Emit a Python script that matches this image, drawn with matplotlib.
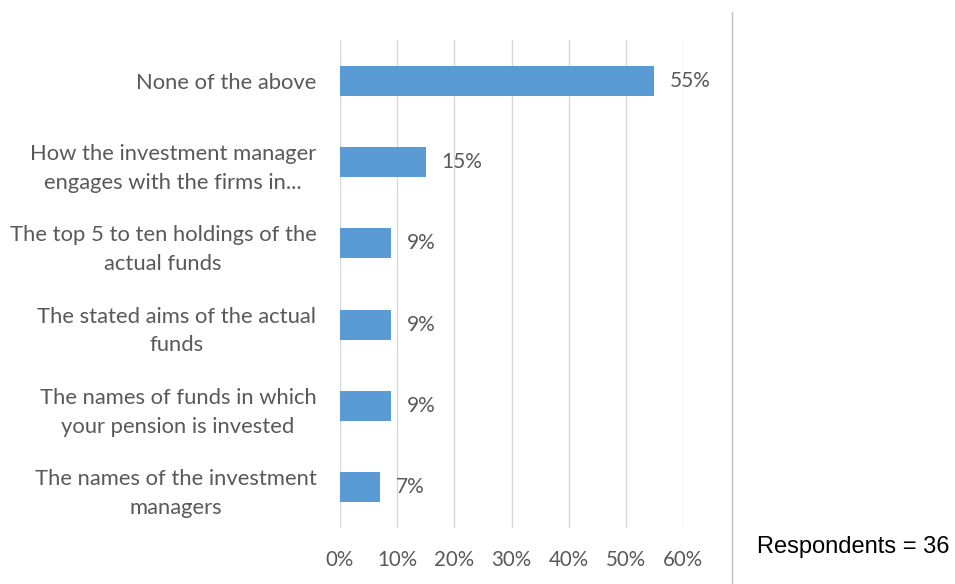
import matplotlib
matplotlib.use("Agg")
import matplotlib.pyplot as plt
from matplotlib.ticker import PercentFormatter

categories = [
    "None of the above",
    "How the investment manager\nengages with the firms in...",
    "The top 5 to ten holdings of the\nactual funds",
    "The stated aims of the actual\nfunds",
    "The names of funds in which\nyour pension is invested",
    "The names of the investment\nmanagers",
]
shares = [0.55, 0.15, 0.09, 0.09, 0.09, 0.07]
xticks = [0.0, 0.1, 0.2, 0.3, 0.4, 0.5, 0.6]
respondents = 36

grey = "#595959"
plt.rcParams['font.family'] = ['Lato', 'DejaVu Sans']

fig = plt.figure(figsize=(9.55, 5.84), dpi=100)
ax = fig.add_axes([340 / 955, 1 - 528 / 584, 343 / 955, 488 / 584])

pos = list(range(len(categories)))
ax.barh(pos, shares, height=0.37, color="#5b9bd5", zorder=3)
for y, v in zip(pos, shares):
    ax.text(v + 0.027, y, f"{v:.0%}", va="center", ha="left",
            color=grey, fontsize=15)

ax.set_ylim(len(categories) - 0.5, -0.5)
ax.set_xlim(0, 0.6)
ax.set_yticks(pos)
ax.set_yticklabels(categories, ha="right", multialignment="center",
                   color=grey, fontsize=15.8, linespacing=1.55)
ax.tick_params(axis="y", length=0, pad=17)
ax.set_xticks(xticks)
ax.xaxis.set_major_formatter(PercentFormatter(1.0, decimals=0))
ax.tick_params(axis="x", length=0, pad=16, colors=grey, labelsize=14.8)
ax.grid(axis="x", color="#d9d9d9", linewidth=1, zorder=0)
for s in ax.spines.values():
    s.set_visible(False)

# separator and respondent count on the right
fig.add_artist(plt.Line2D([732 / 955, 732 / 955], [0, 1 - 12 / 584],
                          color="#bfbfbf", linewidth=1))
fig.text(757 / 955, 1 - 547 / 584, f"Respondents = {respondents}",
         family="Liberation Sans", fontsize=17, va="center", ha="left",
         color="black")

fig.savefig("out.png", dpi=100)
